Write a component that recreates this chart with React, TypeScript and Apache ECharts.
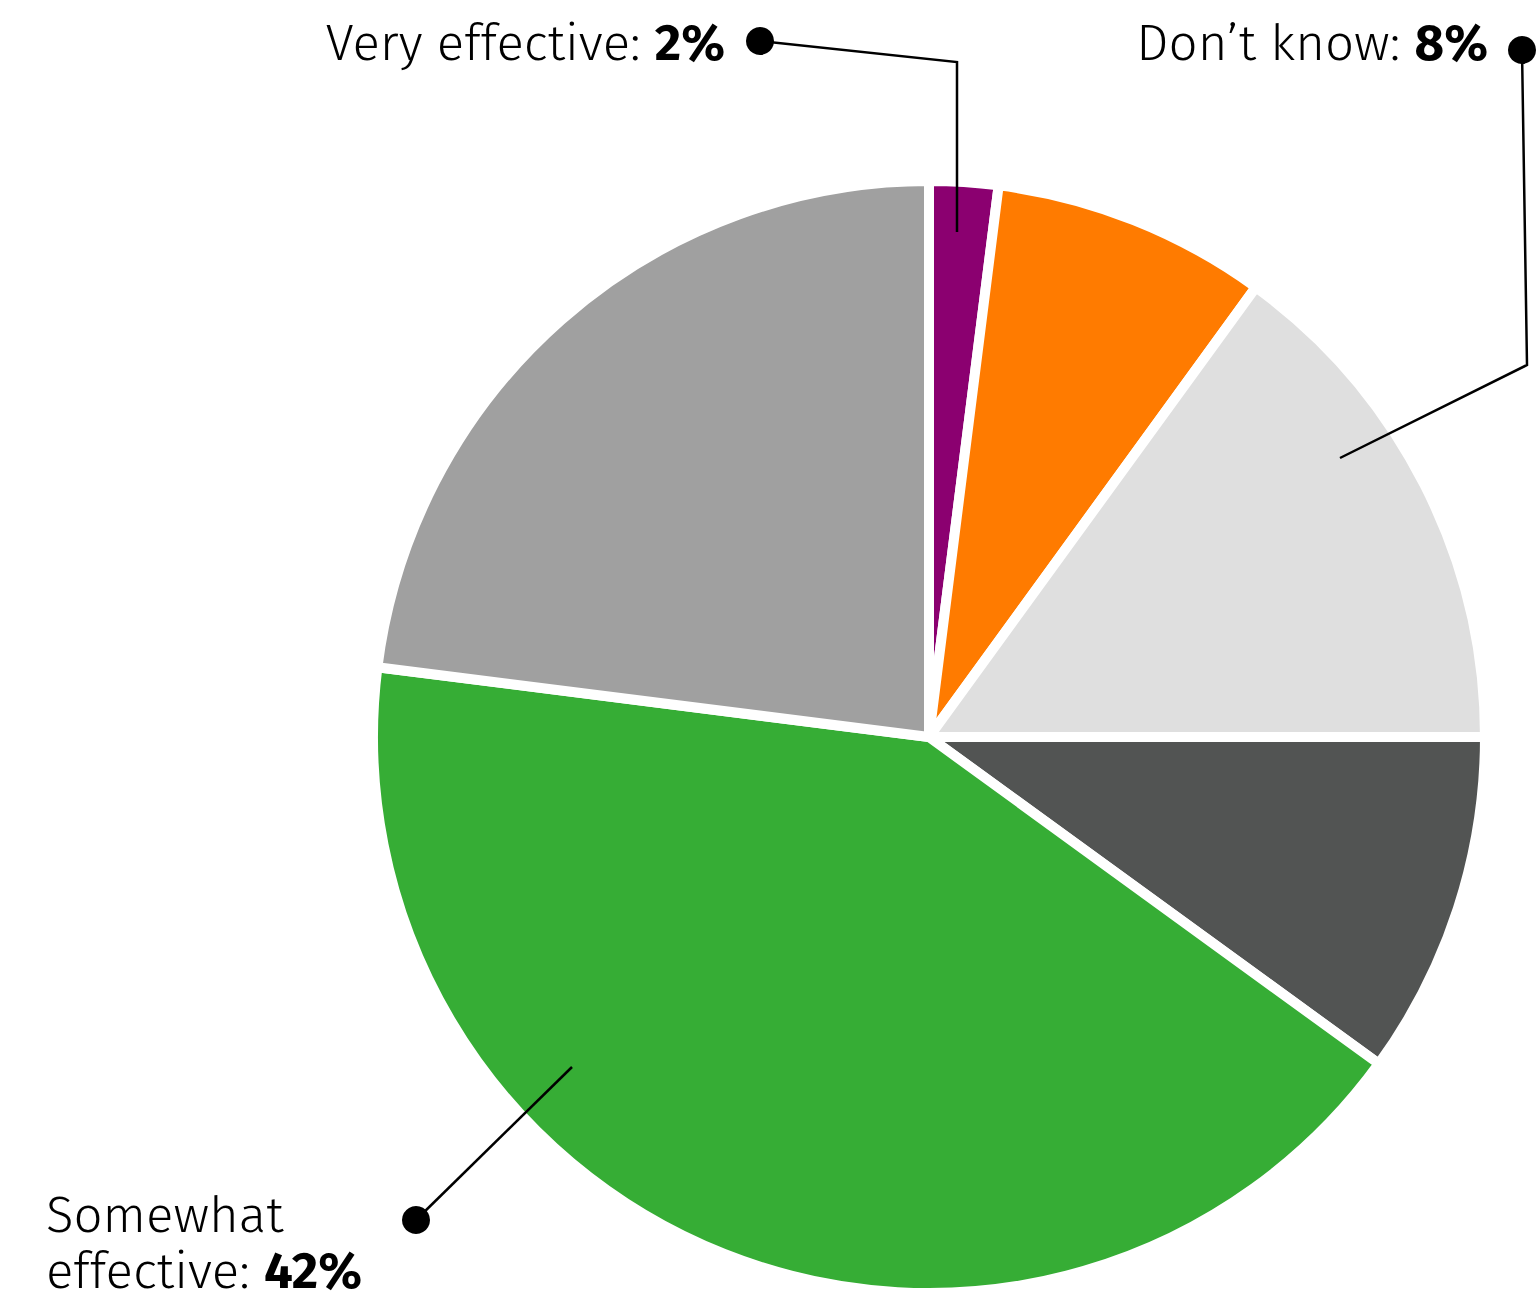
import React, { useEffect, useRef } from "react";
import * as echarts from "echarts";

const categories = [
  "Very effective",
  "Don’t know",
  "Not very effective",
  "Not at all effective",
  "Somewhat effective",
  "Neither effective nor ineffective",
];
const values = [2, 8, 15, 10, 42, 23];
const sliceColors = ["#8B0070", "#FF7B00", "#DFDFDF", "#525453", "#36AD35", "#A0A0A0"];
const labelledIndices = [0, 1, 4];

// Annotation layout (label placement, leader lines and dots)
const labelPlacement: Record<number, any> = {
  0: { x: 725, y: 43, align: "right", verticalAlign: "middle" },
  1: { x: 1488, y: 43, align: "right", verticalAlign: "middle" },
  4: { x: 46, y: 1299, align: "left", verticalAlign: "bottom" },
};
const leaderLines: number[][][] = [
  [[957, 232], [957, 62], [760, 41]],
  [[1340, 458], [1527, 365], [1522, 50]],
  [[572, 1067], [416, 1220]],
];

const FONT = "'Fira Sans', 'Open Sans', 'Noto Sans', sans-serif";
const FS = 51;
const LH = 56;

export default function App() {
  const ref = useRef<HTMLDivElement>(null);
  useEffect(() => {
    document.body.style.margin = "0";
    const chart = echarts.init(ref.current!, null, { renderer: "svg" });
    const data = categories.map((name, i) => ({
      name,
      value: values[i],
      itemStyle: { color: sliceColors[i] },
      label: { show: labelledIndices.includes(i) },
    }));
    const graphics: any[] = [];
    leaderLines.forEach((pts) => {
      graphics.push({
        type: "polyline",
        shape: { points: pts },
        style: { stroke: "#000", lineWidth: 2.5, fill: null },
        z: 100,
      });
      const end = pts[pts.length - 1];
      graphics.push({
        type: "circle",
        shape: { cx: end[0], cy: end[1], r: 14 },
        style: { fill: "#000" },
        z: 101,
      });
    });
    chart.setOption({
      animation: false,
      backgroundColor: "#fff",
      graphic: graphics,
      series: [
        {
          type: "pie",
          center: [929, 737],
          radius: [0, 556],
          startAngle: 90,
          clockwise: true,
          avoidLabelOverlap: false,
          itemStyle: { borderColor: "#fff", borderWidth: 10 },
          label: {
            show: false,
            position: "outside",
            fontFamily: FONT,
            color: "#000",
            formatter: (p: any) => {
              if (p.dataIndex === 4) {
                return `{n|Somewhat}\n{n|effective: }{b|${p.value}%}`;
              }
              return `{n|${p.name}: }{b|${p.value}%}`;
            },
            rich: {
              n: { fontFamily: FONT, fontSize: FS, fontWeight: 300, color: "#000", lineHeight: LH },
              b: { fontFamily: FONT, fontSize: FS, fontWeight: "bold", color: "#000", lineHeight: LH },
            },
          },
          labelLine: { show: false },
          labelLayout: (params: any) => {
            const pl = labelPlacement[params.dataIndex];
            if (!pl) return {};
            return { ...pl, hideOverlap: false };
          },
          emphasis: { disabled: true },
          data,
        },
      ],
    });
    return () => chart.dispose();
  }, []);
  return <div ref={ref} style={{ width: 1538, height: 1302 }} />;
}
